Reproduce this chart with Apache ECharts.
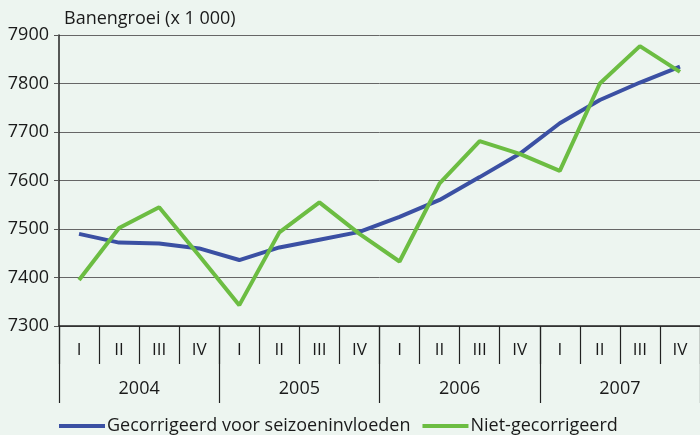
<!DOCTYPE html>
<html>
<head>
    <meta charset="UTF-8">
    <title>Banengroei</title>
    <script src="https://cdn.jsdelivr.net/npm/echarts@6/dist/echarts.min.js"></script>
    <style>
        html, body { margin: 0; padding: 0; background: #edf5f0; }
        #chart { width: 700px; height: 435px; }
    </style>
</head>
<body>
<div id="chart"></div>
<script>
    // data
    var kwartalen = ['I', 'II', 'III', 'IV', 'I', 'II', 'III', 'IV', 'I', 'II', 'III', 'IV', 'I', 'II', 'III', 'IV'];
    var jaren = ['2004', '2005', '2006', '2007'];
    var gecorrigeerd = [7490, 7472, 7470, 7460, 7436, 7462, 7478, 7494, 7525, 7560, 7607, 7655, 7718, 7766, 7802, 7835];
    var nietGecorrigeerd = [7395, 7502, 7545, 7445, 7343, 7493, 7555, 7490, 7433, 7594, 7681, 7655, 7620, 7800, 7877, 7824];
    var yTicks = { min: 7300, max: 7900, step: 100 };

    var font = 'Open Sans';
    var chart = echarts.init(document.getElementById('chart'));
    chart.setOption({
        backgroundColor: '#edf5f0',
        animation: false,
        title: {
            text: 'Banengroei (x 1 000)',
            left: 59,
            top: 5,
            textStyle: { fontFamily: font, fontSize: 18, fontWeight: 'normal', color: '#1a1a1a' }
        },
        grid: { left: 59, right: -3, top: 35, bottom: 109 },
        legend: {
            left: 54,
            top: 412,
            icon: 'rect',
            itemWidth: 46,
            itemHeight: 4,
            itemGap: 12,
            textStyle: { fontFamily: font, fontSize: 18, color: '#1a1a1a', padding: [0, 0, 0, -3] },
            data: ['Gecorrigeerd voor seizoeninvloeden', 'Niet-gecorrigeerd']
        },
        xAxis: [{
            type: 'category',
            position: 'bottom',
            data: kwartalen,
            axisLine: { show: true, lineStyle: { color: '#222', width: 1.5 } },
            axisTick: { show: true, interval: 0, length: 38, lineStyle: { color: '#222', width: 1.2 } },
            axisLabel: { interval: 0, margin: 16, fontFamily: font, fontSize: 17, color: '#1a1a1a' }
        }, {
            type: 'category',
            position: 'bottom',
            data: jaren,
            axisLine: { show: false },
            axisTick: { show: true, interval: 0, length: 77, lineStyle: { color: '#222', width: 1.2 } },
            axisLabel: { interval: 0, margin: 54, fontFamily: font, fontSize: 18, color: '#1a1a1a' }
        }],
        yAxis: {
            type: 'value',
            min: yTicks.min,
            max: yTicks.max,
            interval: yTicks.step,
            axisLine: { show: true, lineStyle: { color: '#222', width: 1.5 } },
            axisTick: { show: true, length: 5, lineStyle: { color: '#555' } },
            axisLabel: {
                margin: 10, fontFamily: font, fontSize: 18, color: '#1a1a1a',
                formatter: function (v) { return String(v); }
            },
            splitLine: { lineStyle: { color: '#666', width: 1 } }
        },
        series: [{
            name: 'Gecorrigeerd voor seizoeninvloeden',
            type: 'line',
            xAxisIndex: 0,
            data: gecorrigeerd,
            symbol: 'none',
            lineStyle: { color: '#3b50a3', width: 4 },
            itemStyle: { color: '#3b50a3' }
        }, {
            name: 'Niet-gecorrigeerd',
            type: 'line',
            xAxisIndex: 0,
            data: nietGecorrigeerd,
            symbol: 'none',
            lineStyle: { color: '#6cbd42', width: 4 },
            itemStyle: { color: '#6cbd42' }
        }]
    });
</script>
</body>
</html>
